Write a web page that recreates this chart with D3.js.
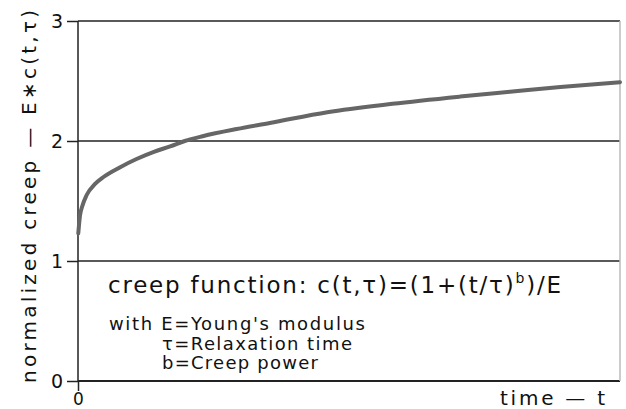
<!DOCTYPE html>
<html><head><meta charset="utf-8">
<script src="https://cdn.jsdelivr.net/npm/d3@7"></script>
<style>
html,body{margin:0;padding:0;background:#fff;}
svg{display:block;}
text{font-family:"DejaVu Sans",sans-serif;fill:#111;}
</style></head><body>
<svg id="c" width="626" height="409"></svg>
<script>
// time in % of plotted range, normalized creep E*c(t,tau)
const timeValues  = [0.05, 0.37, 0.74, 1.6, 3.1, 4.7, 7.7, 10.8, 14, 17, 19.7, 23, 29.3, 35.4, 46, 58, 70.5, 79.7, 89, 100];
const creepValues = [1.23, 1.38, 1.45, 1.55, 1.64, 1.70, 1.78, 1.85, 1.91, 1.955, 2.00, 2.04, 2.10, 2.15, 2.24, 2.31, 2.37, 2.41, 2.45, 2.49];
const yTickValues = [0, 1, 2, 3];
const xTickValues = [0];

const svg = d3.select("#c");
const x = d3.scaleLinear().domain([0, 100]).range([78, 620]);
const y = d3.scaleLinear().domain([0, 3]).range([381, 21]);

// y ticks
const gy = svg.append("g").attr("transform", "translate(" + x(0) + ",0)")
  .call(d3.axisLeft(y).tickValues(yTickValues).tickFormat(d3.format("d"))
    .tickSizeInner(11).tickSizeOuter(0).tickPadding(4));
gy.select(".domain").remove();
gy.selectAll(".tick line").attr("stroke", "#222").attr("stroke-width", 1.5);
gy.selectAll(".tick text").attr("font-size", 19).attr("fill", "#111").style("font-family", "DejaVu Sans");

// horizontal grid lines
svg.append("g").selectAll("line").data(yTickValues).join("line")
  .attr("x1", x(0)).attr("x2", x(100))
  .attr("y1", d => y(d)).attr("y2", d => y(d))
  .attr("stroke", "#222").attr("stroke-width", d => d === 0 ? 2 : 1.5);

// right border
svg.append("line").attr("x1", x(100)).attr("x2", x(100)).attr("y1", y(3)).attr("y2", y(0))
  .attr("stroke", "#bbb").attr("stroke-width", 1.5);

// x axis tick
const gx = svg.append("g").attr("transform", "translate(0," + y(0) + ")")
  .call(d3.axisBottom(x).tickValues(xTickValues).tickFormat(d3.format("d"))
    .tickSizeInner(10).tickSizeOuter(0).tickPadding(2));
gx.select(".domain").remove();
gx.selectAll(".tick line").attr("stroke", "#222").attr("stroke-width", 1.5);
gx.selectAll(".tick text").attr("font-size", 17).attr("fill", "#111").style("font-family", "DejaVu Sans");

// y axis line
svg.append("line").attr("x1", x(0)).attr("x2", x(0)).attr("y1", y(3)).attr("y2", y(0))
  .attr("stroke", "#222").attr("stroke-width", 1.5);

// curve
const pts = timeValues.map((t, i) => [t, creepValues[i]]);
svg.append("path").datum(pts)
  .attr("fill", "none").attr("stroke", "#666").attr("stroke-width", 4)
  .attr("stroke-linecap", "round")
  .attr("d", d3.line().x(d => x(d[0])).y(d => y(d[1])).curve(d3.curveMonotoneX));

// axis titles
svg.append("text").attr("x", 605).attr("y", 405).attr("text-anchor", "end")
  .attr("font-size", 20).attr("textLength", 105).attr("lengthAdjust", "spacing")
  .text("time \u2014 t");
svg.append("text").attr("transform", "translate(36,383) rotate(-90)")
  .attr("font-size", 20).attr("textLength", 373).attr("lengthAdjust", "spacing")
  .text("normalized creep \u2014 E\u2217c(t,\u03c4)");

// annotation
const t1 = svg.append("text").attr("x", 108).attr("y", 293).attr("font-size", 23)
  .attr("textLength", 453).attr("lengthAdjust", "spacing");
t1.append("tspan").text("creep  function:  c(t,\u03c4)=(1+(t/\u03c4)");
t1.append("tspan").attr("font-size", 14).attr("dy", -10).text("b");
t1.append("tspan").attr("dy", 10).text(")/E");

svg.append("text").attr("x", 109).attr("y", 330).attr("font-size", 18)
  .attr("textLength", 256).attr("lengthAdjust", "spacing").text("with  E=Young's  modulus");
svg.append("text").attr("x", 162).attr("y", 350).attr("font-size", 18)
  .attr("textLength", 190).attr("lengthAdjust", "spacing").text("\u03c4=Relaxation  time");
svg.append("text").attr("x", 162).attr("y", 369).attr("font-size", 18)
  .attr("textLength", 156).attr("lengthAdjust", "spacing").text("b=Creep  power");
</script></body></html>
